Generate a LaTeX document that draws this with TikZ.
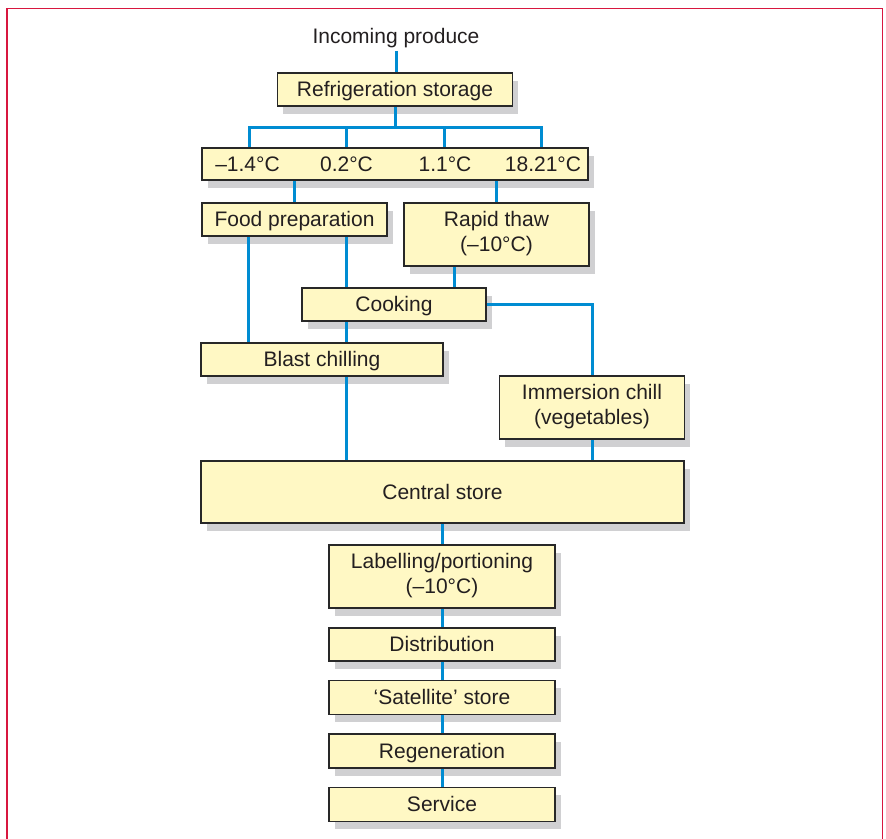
\documentclass[tikz,border=0pt]{standalone}
\usepackage{fontspec}
\setmainfont{Liberation Sans}
\usetikzlibrary{shadows}

\definecolor{boxfill}{RGB}{255,248,196}
\definecolor{boxline}{RGB}{40,40,40}
\definecolor{shade}{RGB}{208,208,210}
\definecolor{link}{RGB}{0,140,210}
\definecolor{frame}{RGB}{216,23,63}
\definecolor{ink}{RGB}{35,31,32}

\tikzset{
  stage/.style={draw=boxline, line width=1.6pt, fill=boxfill, inner sep=0pt,
    text=ink, align=center, font=\fontsize{21}{25.5}\selectfont,
    text height=15.5pt, text depth=1.5pt,
    drop shadow={shadow xshift=5.5pt, shadow yshift=-7.5pt, fill=shade, opacity=1}},
  twoline/.style={text height=41pt, text depth=7pt},
  label/.style={inner sep=1pt, text=ink, font=\fontsize{21}{25.5}\selectfont,
    text height=15.5pt, text depth=1.5pt},
  conn/.style={draw=link, line width=3pt},
}

\begin{document}
\begin{tikzpicture}[x=1pt, y=-1pt]
\useasboundingbox (0,0) rectangle (886,838);

% outer frame
\draw[frame, line width=1.6pt] (7,850) -- (7,8.3) -- (882.5,8.3) -- (882.5,850);

% boxes
\node[label, text depth=6pt] (inc) at (396,39) {Incoming produce};
\node[stage, minimum width=235, minimum height=33] (refr) at (395,89.5) {Refrigeration storage};
\node[stage, minimum width=386, minimum height=32] (temps) at (395,164) {};
\node[label] (t1) at (247.5,164) {–1.4°C};
\node[label] (t2) at (346.5,164) {0.2°C};
\node[label] (t3) at (445,164) {1.1°C};
\node[label] (t4) at (543,164) {18.21°C};
\node[stage, minimum width=185, minimum height=33] (prep) at (294.5,219.5) {Food preparation};
\node[stage, twoline, minimum width=185, minimum height=63] (thaw) at (496.5,234.5) {Rapid thaw\\(–10°C)};
\node[stage, minimum width=184, minimum height=33] (cook) at (394,304.5) {Cooking};
\node[stage, minimum width=242, minimum height=33] (blast) at (322,359.5) {Blast chilling};
\node[stage, twoline, minimum width=185, minimum height=63] (imm) at (592,407.5) {Immersion chill\\(vegetables)};
\node[stage, minimum width=483, minimum height=62] (central) at (442.5,492) {Central store};
\node[stage, twoline, minimum width=226, minimum height=63] (lab) at (442,576.5) {Labelling/portioning\\(–10°C)};
\node[stage, minimum width=226, minimum height=33] (dist) at (442,644.5) {Distribution};
\node[stage, minimum width=226, minimum height=34] (sat) at (442,697.5) {‘Satellite’ store};
\node[stage, minimum width=226, minimum height=34] (regen) at (442,751) {Regeneration};
\node[stage, minimum width=226, minimum height=34] (serv) at (442,804.5) {Service};

% branch points
\coordinate (b1) at (249,127);
\coordinate (b2) at (346,127);
\coordinate (b3) at (444,127);
\coordinate (b4) at (541,127);
\coordinate (p1) at (248,236);
\coordinate (p2) at (346,236);
\coordinate (k1) at (346,321);

% connectors
\draw[conn] (inc.south) -- (inc.south |- refr.north);
\draw[conn] (refr.south) -- (refr.south |- b1);
\draw[conn] (b1 |- temps.north) -- (b1) -- (b4) -- (b4 |- temps.north);
\draw[conn] (b2) -- (b2 |- temps.north);
\draw[conn] (b3) -- (b3 |- temps.north);
\draw[conn] (prep.north) -- (prep.north |- temps.south);
\draw[conn] (thaw.north) -- (thaw.north |- temps.south);
\draw[conn] (p1 |- prep.south) -- (p1 |- blast.north);
\draw[conn] (p2 |- prep.south) -- (p2 |- cook.north);
\draw[conn] ([xshift=-42.5pt]thaw.south) -- ([xshift=-42.5pt]thaw.south |- cook.north);
\draw[conn] (k1 |- cook.south) -- (k1 |- blast.north);
\draw[conn] (cook.east) -| (imm.north);
\draw[conn] (k1 |- blast.south) -- (k1 |- central.north);
\draw[conn] (imm.south) -- (imm.south |- central.north);
\draw[conn] (lab.north) -- (lab.north |- central.south);
\draw[conn] (lab.south) -- (dist.north);
\draw[conn] (dist.south) -- (sat.north);
\draw[conn] (sat.south) -- (regen.north);
\draw[conn] (regen.south) -- (serv.north);
\end{tikzpicture}
\end{document}
